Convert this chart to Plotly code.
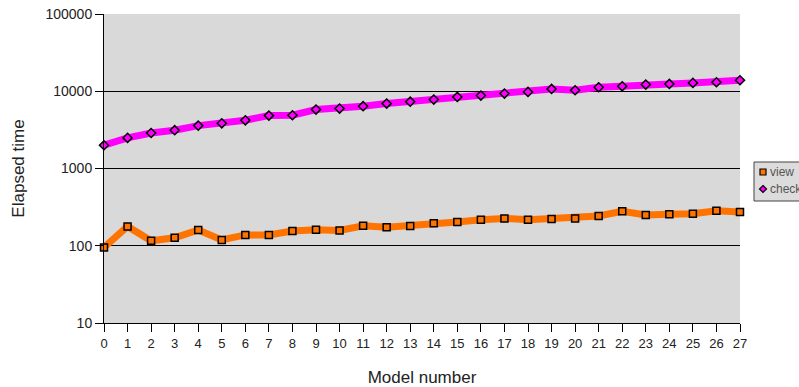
import plotly.graph_objects as go

models = list(range(28))
tick_labels = [str(i) for i in models]
view = [95, 178, 116, 127, 160, 119, 138, 138, 155, 161, 158, 181, 173, 180,
        195, 203, 217, 226, 217, 222, 226, 243, 279, 250, 255, 260, 284, 273]
check = [2000, 2490, 2880, 3130, 3590, 3850, 4210, 4840, 4890, 5790, 5970, 6400, 6920, 7330,
         7800, 8440, 8790, 9330, 9800, 10700, 10300, 11270, 11600, 12220, 12440, 12830, 13080, 13880]
series_names = ["view", "check"]

ORANGE = "#ff7300"
MAGENTA = "#ff00ff"

fig = go.Figure()
fig.add_trace(go.Scatter(
    x=models, y=view, name=series_names[0], mode="lines+markers",
    line=dict(color=ORANGE, width=7),
    marker=dict(symbol="square", size=7, color=ORANGE, line=dict(color="black", width=1.5)),
    cliponaxis=False, showlegend=False))
fig.add_trace(go.Scatter(
    x=models, y=check, name=series_names[1], mode="lines+markers",
    line=dict(color=MAGENTA, width=7),
    marker=dict(symbol="diamond", size=7, color=MAGENTA, line=dict(color="black", width=1.5)),
    cliponaxis=False, showlegend=False))

# plot area in pixels: left 104, right 740, top 14, bottom 323
L, R, T, B = 104, 740, 14, 323
W, H = 799, 387
def px(x):
    return (x - L) / (R - L)
def py(y):
    return (B - y) / (B - T)

shapes = [
    dict(type="rect", xref="paper", yref="paper", x0=px(754), x1=px(830), y0=py(201), y1=py(162),
         fillcolor="#dcdcdc", line=dict(color="#444444", width=1), layer="above"),
    dict(type="rect", xref="paper", yref="paper", x0=px(760), x1=px(766), y0=py(175), y1=py(169),
         fillcolor=ORANGE, line=dict(color="black", width=1.2), layer="above"),
    dict(type="path", xref="paper", yref="paper",
         path=f"M {px(763)},{py(185.5)} L {px(766.5)},{py(189)} L {px(763)},{py(192.5)} L {px(759.5)},{py(189)} Z",
         fillcolor=MAGENTA, line=dict(color="black", width=1.2), layer="above"),
]
annotations = [
    dict(xref="paper", yref="paper", x=px(768), y=py(172), text=series_names[0], showarrow=False,
         xanchor="left", yanchor="middle", font=dict(size=12, color="#555555")),
    dict(xref="paper", yref="paper", x=px(768), y=py(189), text=series_names[1], showarrow=False,
         xanchor="left", yanchor="middle", font=dict(size=12, color="#555555")),
]

fig.update_layout(
    width=W, height=H,
    margin=dict(l=L, r=W - R, t=T, b=H - B, pad=0),
    paper_bgcolor="white", plot_bgcolor="#d9d9d9",
    font=dict(family="Liberation Sans, Arial, sans-serif", size=13, color="#222222"),
    shapes=shapes, annotations=annotations,
    xaxis=dict(range=[0, 27], tickmode="array", tickvals=models, ticktext=tick_labels,
               showgrid=False, zeroline=False, showline=True, linecolor="black", linewidth=1,
               ticks="outside", ticklen=8, tickcolor="black", tickfont=dict(size=13),
               automargin=False,
               title=dict(text="Model number", font=dict(size=17), standoff=22)),
    yaxis=dict(type="log", range=[1, 5], tickvals=[10, 100, 1000, 10000, 100000],
               ticktext=["10", "100", "1000", "10000", "100000"],
               showgrid=True, gridcolor="black", gridwidth=1, zeroline=False,
               showline=True, linecolor="black", linewidth=1,
               ticks="outside", ticklen=8, tickcolor="black", tickfont=dict(size=14),
               automargin=False,
               title=dict(text="Elapsed time", font=dict(size=17), standoff=16)),
)

fig.write_html("out.html", config={"displayModeBar": False},
               post_script="document.body.style.margin='0';")
